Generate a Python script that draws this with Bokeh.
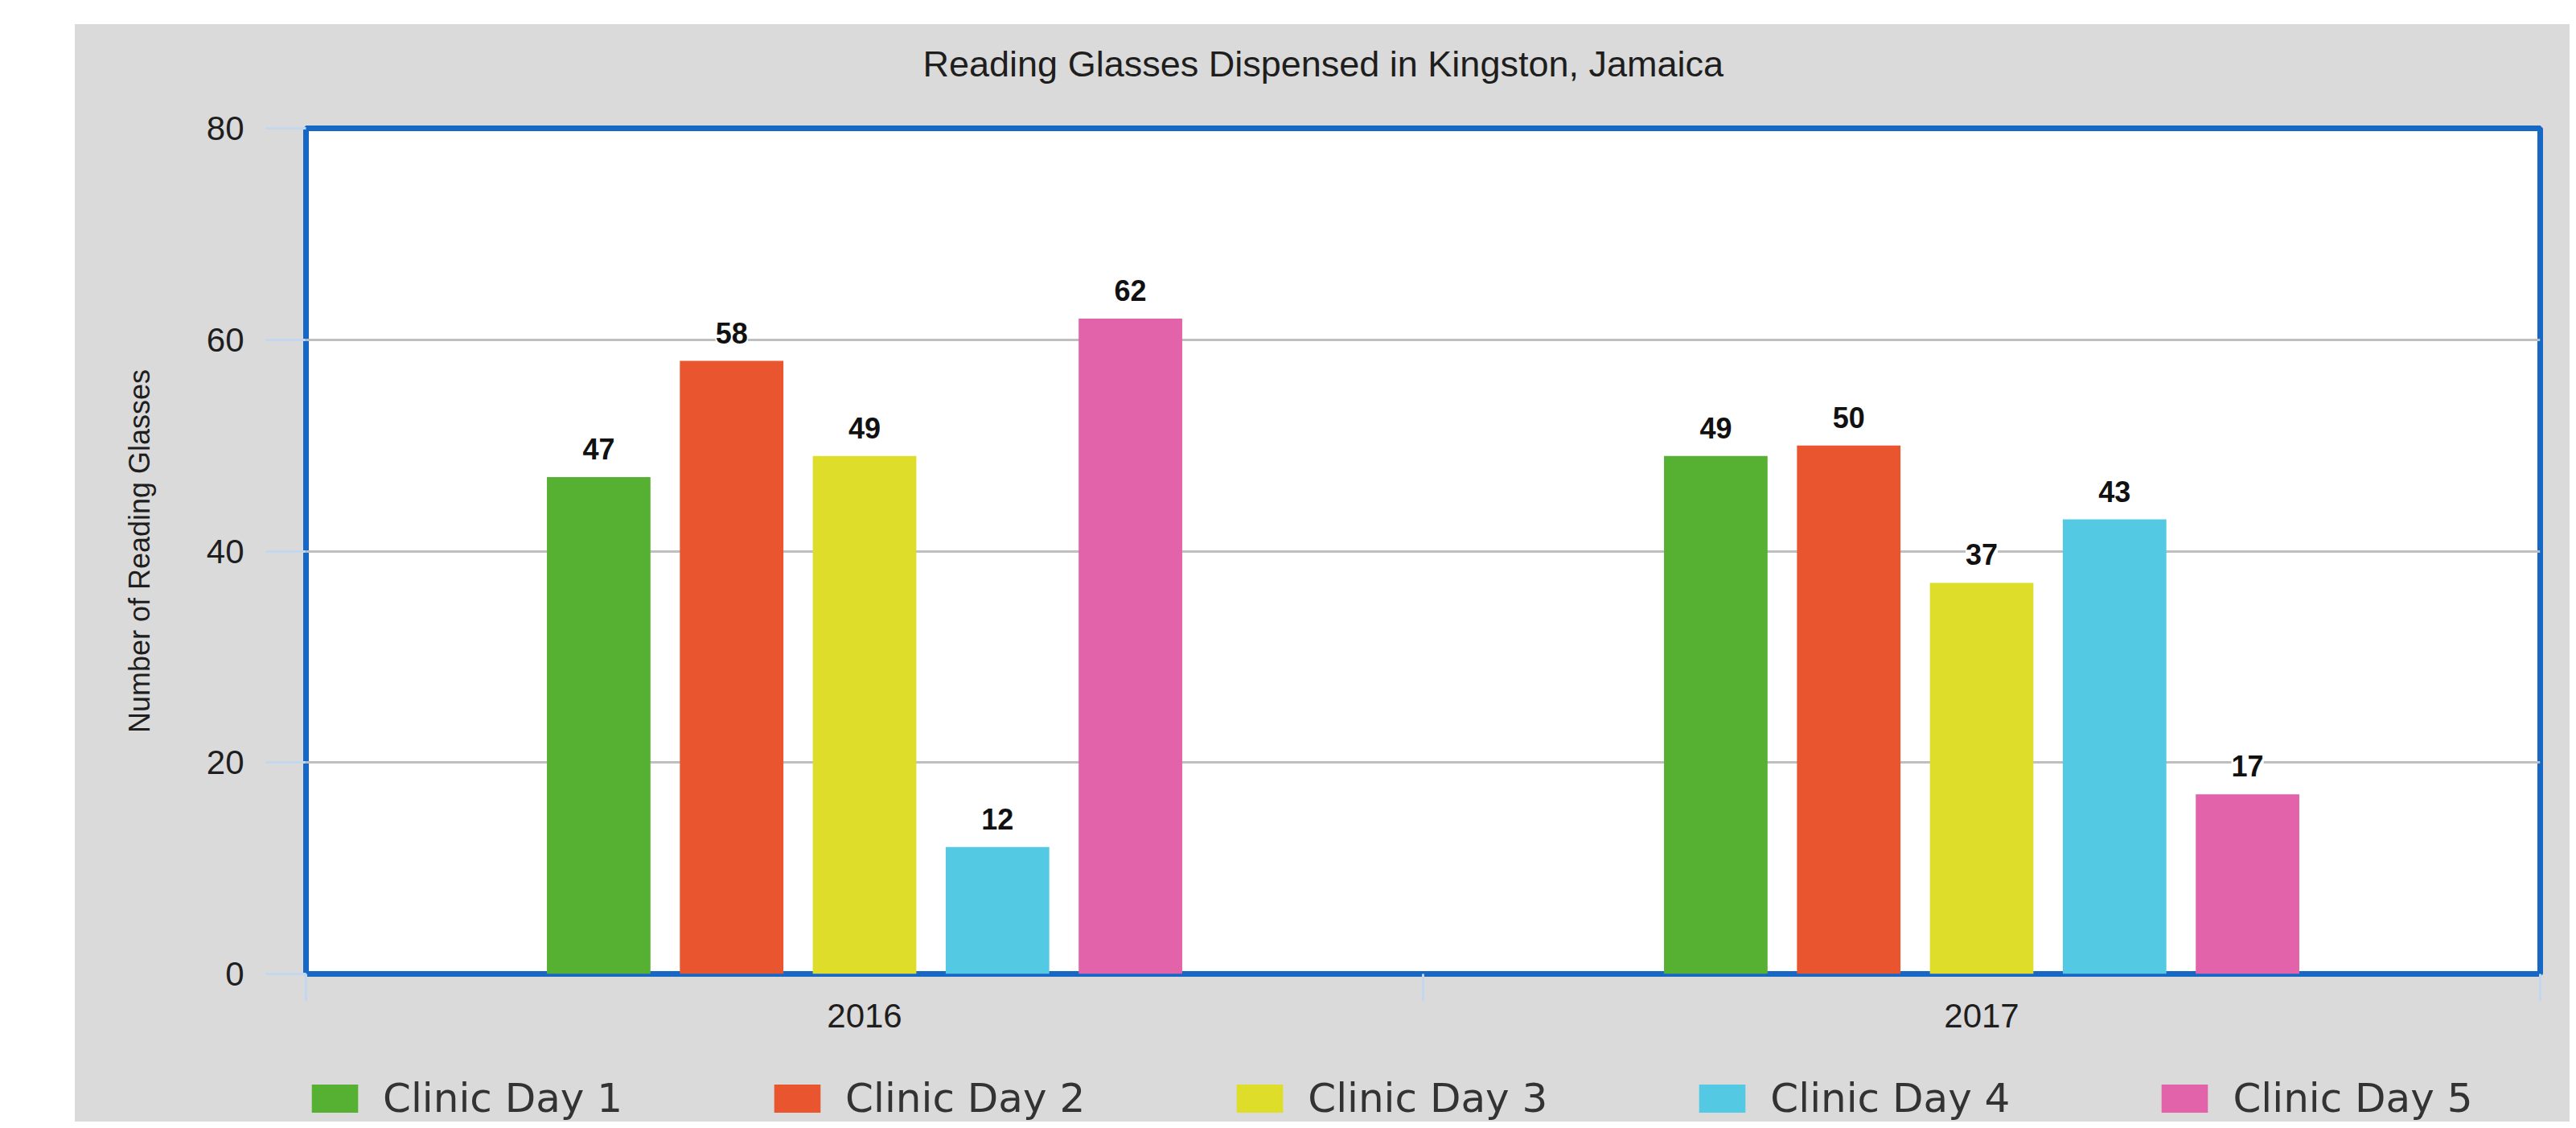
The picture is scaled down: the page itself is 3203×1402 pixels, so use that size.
from bokeh.plotting import figure
from bokeh.models import (ColumnDataSource, Range1d, FixedTicker, LabelSet, Legend, LegendItem, Spacer)
from bokeh.core.properties import value
from bokeh.layouts import column, row
from bokeh.transform import dodge
from bokeh.embed import file_html
from bokeh.resources import INLINE

# ---- data ----
years = ["2016", "2017"]
series_names = ["Clinic Day 1", "Clinic Day 2", "Clinic Day 3", "Clinic Day 4", "Clinic Day 5"]
day1 = [47, 49]
day2 = [58, 50]
day3 = [49, 37]
day4 = [12, 43]
day5 = [62, 17]
series_values = [day1, day2, day3, day4, day5]
colors = ["#56B133", "#E8552E", "#DDDD2A", "#53C9E3", "#E263A9"]
y_ticks = [0, 20, 40, 60, 80]

title_text = "Reading Glasses Dispensed in Kingston, Jamaica"
y_label = "Number of Reading Glasses"

ARIAL = "Liberation Sans"
DEJAVU = "DejaVu Sans"
BG = "#dadada"
BLUE = "#1767C4"
TICK = "#c3d7ee"

W = 3102
H_TITLE = 100
H_MAIN = 1165
H_LEG = 99
BORDER_L, BORDER_R = 287, 37


def strip(height, y_range, left=BORDER_L):
    f = figure(width=W, height=height, x_range=Range1d(0, len(years)), y_range=y_range,
               x_axis_location=None, y_axis_location=None, output_backend="svg", toolbar_location=None,
               min_border_left=left, min_border_right=BORDER_R, min_border_top=0, min_border_bottom=0)
    f.background_fill_color = None
    f.border_fill_color = BG
    f.outline_line_color = None
    f.grid.grid_line_color = None
    return f


# ---- title strip ----
pt = strip(H_TITLE, Range1d(0, 1))
pt.title.text = title_text
pt.title.align = "left"
pt.title.offset = 767
pt.title.standoff = 43
pt.title.text_font = ARIAL
pt.title.text_font_size = "45px"
pt.title.text_font_style = "normal"
pt.title.text_color = "#1e1e1e"

# category slots: category i occupies [i, i+1], centre at i + 0.5
cat_centres = [i + 0.5 for i in range(len(years))]
cat_bounds = list(range(len(years) + 1))

# ---- main chart ----
p = figure(width=W, height=H_MAIN, x_range=Range1d(0, len(years)), y_range=Range1d(0, 80),
           output_backend="svg", toolbar_location=None,
           min_border_left=BORDER_L, min_border_right=BORDER_R, min_border_top=29, min_border_bottom=85)

p.background_fill_color = "white"
p.border_fill_color = BG
p.outline_line_color = BLUE
p.outline_line_width = 7

# y axis
p.yaxis.ticker = y_ticks
p.yaxis.axis_line_color = None
p.yaxis.major_tick_in = 0
p.yaxis.major_tick_out = 50
p.yaxis.major_tick_line_color = TICK
p.yaxis.major_tick_line_width = 3
p.yaxis.minor_tick_line_color = None
p.yaxis.major_label_standoff = 27
p.yaxis.major_label_text_font = ARIAL
p.yaxis.major_label_text_font_size = "42px"
p.yaxis.major_label_text_color = "#1e1e1e"
p.yaxis.axis_label = y_label
p.yaxis.axis_label_text_font = ARIAL
p.yaxis.axis_label_text_font_size = "36px"
p.yaxis.axis_label_text_font_style = "normal"
p.yaxis.axis_label_text_color = "#1e1e1e"
p.yaxis.axis_label_standoff = 60

p.ygrid.ticker = p.yaxis[0].ticker
p.ygrid.grid_line_color = "#bfbfbf"
p.ygrid.grid_line_width = 3
p.xgrid.grid_line_color = None

# x axis: labels at category centres, tick marks at category boundaries
p.xaxis.ticker = FixedTicker(ticks=cat_centres, minor_ticks=cat_bounds)
p.xaxis.major_label_overrides = {c: y for c, y in zip(cat_centres, years)}
p.xaxis.axis_line_color = None
p.xaxis.major_tick_line_color = None
p.xaxis.major_tick_in = 0
p.xaxis.major_tick_out = 0
p.xaxis.minor_tick_in = 0
p.xaxis.minor_tick_out = 34
p.xaxis.minor_tick_line_color = TICK
p.xaxis.minor_tick_line_width = 3
p.xaxis.major_label_standoff = 3
p.xaxis.major_label_text_font = ARIAL
p.xaxis.major_label_text_font_size = "42px"
p.xaxis.major_label_text_color = "#1e1e1e"

# ---- legend strip (same sources; its y-range is far above the data, so only the legend shows) ----
pl = strip(H_LEG, Range1d(1000, 1001), left=166)
pl.x_range = p.x_range

# bars + value labels
offsets = [-0.238, -0.119, 0.0, 0.119, 0.238]
bar_width = 0.0927
items = []
for name, vals, col, off in zip(series_names, series_values, colors, offsets):
    src = ColumnDataSource(dict(pos=cat_centres, year=years, value=vals, label=[str(v) for v in vals]))
    p.vbar(x=dodge("pos", off), top="value", width=bar_width,
           fill_color=col, line_color=None, source=src)
    labels = LabelSet(x=dodge("pos", off), y="value", text="label", source=src,
                      text_align="center", text_baseline="bottom", y_offset=22,
                      text_font=value(ARIAL), text_font_size=value("36px"), text_font_style="bold",
                      text_color="#111111", background_fill_color="white")
    p.add_layout(labels)
    rl = pl.vbar(x=dodge("pos", off), top="value", width=bar_width,
                 fill_color=col, line_color=None, source=src)
    items.append(LegendItem(label=name, renderers=[rl]))

legend = Legend(items=items, orientation="horizontal", location=(0, 0),
                glyph_width=72, glyph_height=44, label_standoff=24, spacing=181,
                label_text_font=DEJAVU, label_text_font_size="50px", label_text_color="#333333",
                background_fill_alpha=0, border_line_color=None, padding=0, margin=0)
pl.add_layout(legend)

chart = column(pt, p, pl, styles={"background-color": BG})
layout = column(Spacer(height=30), row(Spacer(width=93), chart))
open("out.html", "w").write(file_html(layout, INLINE))
